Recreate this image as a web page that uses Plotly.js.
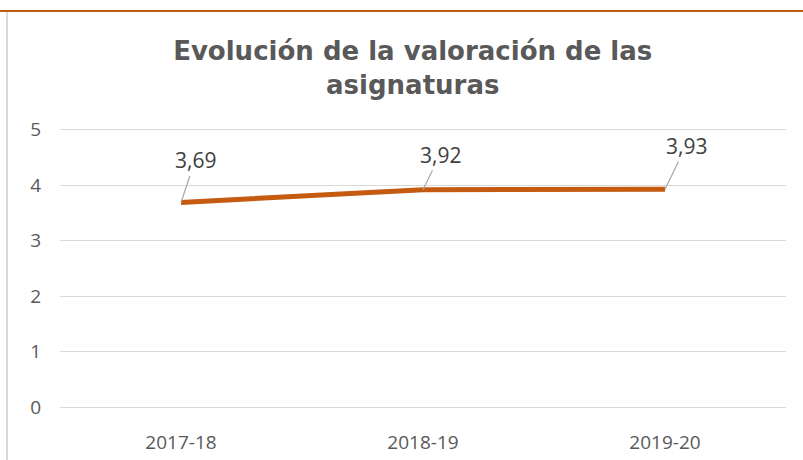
<!DOCTYPE html>
<html>
<head>
<meta charset="utf-8">
<script src="https://cdn.plot.ly/plotly-3.0.1.min.js"></script>
<style>
  body { margin: 0; background: #fff; }
  #wrap { position: relative; width: 803px; height: 460px; overflow: hidden; }
  #graph { position: absolute; left: 0; top: 0; width: 803px; height: 460px; }
  #topline { position: absolute; left: 0; top: 10px; width: 803px; height: 2px; background: #C55A11; z-index: 2; }
  #leftline { position: absolute; left: 6px; top: 12px; width: 2px; height: 448px; background: #D9D9D9; z-index: 2; }
</style>
</head>
<body>
<div id="wrap">
  <div id="graph"></div>
  <div id="topline"></div>
  <div id="leftline"></div>
</div>
<script>
var cursos = ['2017-18', '2018-19', '2019-20'];
var valoracion = [3.69, 3.92, 3.93];
var yTicks = [0, 1, 2, 3, 4, 5];

document.addEventListener('DOMContentLoaded', function() {
    // offsets of the data labels (pixels) relative to each point
    var offX = [14, 17, 21];
    var offY = [-42, -35, -43];

    var anotaciones = [];
    for (let i = 0; i < cursos.length; i++) {
        anotaciones.push({
            x: cursos[i],
            y: valoracion[i],
            xref: 'x',
            yref: 'y',
            text: valoracion[i].toFixed(2).replace('.', ','),
            showarrow: true,
            arrowhead: 0,
            arrowwidth: 1.2,
            arrowcolor: '#A6A6A6',
            standoff: 0,
            ax: offX[i],
            ay: offY[i],
            font: { family: 'Open Sans, sans-serif', size: 21, color: '#404040' }
        });
    }

    var trace = {
        x: cursos,
        y: valoracion,
        mode: 'lines',
        line: { color: '#C55A11', width: 5 },
        hoverinfo: 'skip'
    };

    var layout = {
        width: 803,
        height: 460,
        margin: { l: 60, r: 17, t: 127, b: 50 },
        paper_bgcolor: '#fff',
        plot_bgcolor: '#fff',
        showlegend: false,
        title: {
            text: '<b>Evolución de la valoración de las<br>asignaturas</b>',
            font: { family: 'DejaVu Sans, sans-serif', size: 26, color: '#595959' },
            xref: 'container',
            x: 0.514,
            xanchor: 'center',
            yref: 'container',
            y: 1 - 60 / 460,
            yanchor: 'middle'
        },
        xaxis: {
            type: 'category',
            range: [-0.5, 2.5],
            showgrid: false,
            zeroline: false,
            showline: false,
            ticks: '',
            tickfont: { family: 'Open Sans, sans-serif', size: 19, color: '#595959' },
            ticklabelstandoff: 19
        },
        yaxis: {
            range: [-0.05, 5.05],
            tickvals: yTicks,
            showgrid: true,
            gridcolor: '#D9D9D9',
            gridwidth: 1.3,
            zeroline: false,
            showline: false,
            ticks: '',
            tickfont: { family: 'Open Sans, sans-serif', size: 19, color: '#595959' },
            ticklabelstandoff: 18
        },
        annotations: anotaciones
    };

    Plotly.newPlot('graph', [trace], layout, { displayModeBar: false, staticPlot: true });
});
</script>
</body>
</html>
